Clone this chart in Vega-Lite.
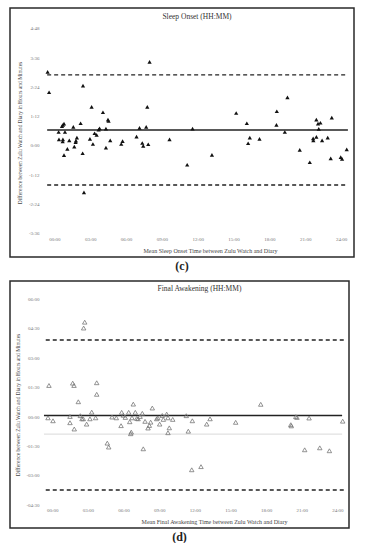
{
  "$schema": "https://vega.github.io/schema/vega-lite/v6.json",
  "padding": {"left": 9, "top": 7, "right": 10, "bottom": 0},
  "background": "white",
  "config": {
    "font": "Liberation Serif",
    "view": {"stroke": "#2a2a2a", "strokeWidth": 1.5},
    "concat": {"spacing": 8},
    "axis": {"labelOverlap": false, "labelBound": false, "labelFlush": false}
  },
  "datasets": {
    "onset": [
      {"t": -0.56, "d": 2.99}, {"t": -0.44, "d": 2.16}, {"t": 2.40, "d": 2.43}, {"t": 3.12, "d": 1.56},
      {"t": 4.07, "d": 1.34}, {"t": 4.49, "d": 1.04}, {"t": 4.54, "d": 0.98}, {"t": 2.20, "d": 0.89},
      {"t": 1.59, "d": 0.74}, {"t": 0.81, "d": 0.87}, {"t": 0.72, "d": 0.82}, {"t": 0.64, "d": 0.77},
      {"t": 0.36, "d": 0.53}, {"t": 0.89, "d": 0.53}, {"t": 0.39, "d": 0.23}, {"t": 0.72, "d": 0.23},
      {"t": 0.70, "d": 0.14}, {"t": 1.25, "d": 0.19}, {"t": 0.81, "d": -0.42}, {"t": 1.09, "d": -0.16},
      {"t": 1.67, "d": -0.07}, {"t": 1.81, "d": 0.18}, {"t": 1.89, "d": 0.30}, {"t": 1.78, "d": 0.11},
      {"t": 2.37, "d": -0.34}, {"t": 2.48, "d": -1.94}, {"t": 2.98, "d": 0.25}, {"t": 3.23, "d": 0.04},
      {"t": 3.37, "d": 0.48}, {"t": 3.54, "d": 0.41}, {"t": 3.71, "d": 0.63}, {"t": 3.79, "d": 0.68},
      {"t": 4.32, "d": 0.67}, {"t": 4.32, "d": -0.11}, {"t": 4.68, "d": 0.19}, {"t": 5.60, "d": 0.04},
      {"t": 5.71, "d": 0.16}, {"t": 6.88, "d": 0.34}, {"t": 7.13, "d": 0.70}, {"t": 7.36, "d": 0.08},
      {"t": 7.44, "d": -0.04}, {"t": 7.69, "d": 0.74}, {"t": 7.78, "d": 1.56}, {"t": 7.86, "d": 0.03},
      {"t": 7.97, "d": 3.40}, {"t": 9.64, "d": 0.23}, {"t": 11.12, "d": -0.81}, {"t": 11.57, "d": 0.67},
      {"t": 13.19, "d": -0.41}, {"t": 15.22, "d": 1.31}, {"t": 16.11, "d": 0.89}, {"t": 16.22, "d": 0.07},
      {"t": 16.36, "d": 0.30}, {"t": 17.17, "d": 0.25}, {"t": 18.59, "d": 0.82}, {"t": 18.62, "d": 1.38},
      {"t": 19.29, "d": 0.53}, {"t": 19.51, "d": 1.95}, {"t": 20.54, "d": -0.20}, {"t": 21.38, "d": -0.71},
      {"t": 21.66, "d": 0.27}, {"t": 21.68, "d": 0.19}, {"t": 21.93, "d": 0.33}, {"t": 21.93, "d": 1.04},
      {"t": 22.07, "d": 0.87}, {"t": 22.13, "d": 0.66}, {"t": 22.27, "d": 0.91}, {"t": 22.41, "d": 0.19},
      {"t": 22.88, "d": 0.30}, {"t": 23.22, "d": 1.12}, {"t": 23.13, "d": -0.55}, {"t": 23.97, "d": -0.50},
      {"t": 24.08, "d": -0.57}, {"t": 24.47, "d": -0.18}
    ],
    "awake": [
      {"t": 2.73, "d": 4.79}, {"t": 2.64, "d": 4.49}, {"t": -0.28, "d": 1.56}, {"t": 1.72, "d": 1.68},
      {"t": 1.83, "d": 1.56}, {"t": 3.74, "d": 1.70}, {"t": 3.74, "d": 1.11}, {"t": 2.19, "d": 0.73},
      {"t": 6.82, "d": 0.61}, {"t": -0.36, "d": -0.09}, {"t": 0.06, "d": -0.24}, {"t": 1.49, "d": -0.02},
      {"t": 1.49, "d": -0.34}, {"t": 1.85, "d": -0.66}, {"t": 2.36, "d": 0.02}, {"t": 2.50, "d": -0.14},
      {"t": 2.61, "d": -0.14}, {"t": 2.89, "d": -0.41}, {"t": 3.17, "d": -0.14}, {"t": 3.32, "d": 0.20},
      {"t": 3.65, "d": -0.09}, {"t": 4.63, "d": -1.38}, {"t": 4.75, "d": -1.58}, {"t": 5.03, "d": -0.05},
      {"t": 5.39, "d": -0.09}, {"t": 5.79, "d": -0.49}, {"t": 5.84, "d": 0.19}, {"t": 5.98, "d": 0.04},
      {"t": 6.15, "d": -0.07}, {"t": 6.43, "d": 0.19}, {"t": 6.52, "d": -0.29}, {"t": 6.60, "d": -0.90},
      {"t": 6.65, "d": -0.82}, {"t": 6.71, "d": -0.09}, {"t": 6.99, "d": 0.19}, {"t": 7.11, "d": -0.12},
      {"t": 7.22, "d": -0.14}, {"t": 7.39, "d": -0.02}, {"t": 7.58, "d": 0.14}, {"t": 7.66, "d": -1.67},
      {"t": 7.81, "d": -0.27}, {"t": 8.06, "d": -0.61}, {"t": 8.17, "d": -0.48}, {"t": 8.28, "d": -0.31},
      {"t": 8.42, "d": 0.41}, {"t": 8.79, "d": -0.14}, {"t": 8.88, "d": -0.09}, {"t": 9.26, "d": 0.03},
      {"t": 9.35, "d": -0.17}, {"t": 9.63, "d": 0.10}, {"t": 9.74, "d": -0.09}, {"t": 10.14, "d": -0.17},
      {"t": 9.04, "d": -0.41}, {"t": 9.85, "d": -0.60}, {"t": 9.74, "d": -0.85}, {"t": 11.28, "d": 0.02},
      {"t": 11.79, "d": -0.24}, {"t": 11.45, "d": -0.77}, {"t": 13.28, "d": -0.14}, {"t": 13.00, "d": -0.41},
      {"t": 15.44, "d": -0.32}, {"t": 11.74, "d": -2.74}, {"t": 12.52, "d": -2.58}, {"t": 17.55, "d": 0.60},
      {"t": 20.50, "d": -0.03}, {"t": 20.60, "d": -0.07}, {"t": 21.62, "d": -0.10}, {"t": 20.08, "d": -0.44},
      {"t": 20.12, "d": -0.50}, {"t": 24.45, "d": -0.26}, {"t": 21.25, "d": -1.72}, {"t": 22.52, "d": -1.62},
      {"t": 23.33, "d": -1.77}
    ],
    "onsetRef": [
      {"y": 2.87, "kind": "limit"}, {"y": -1.64, "kind": "limit"}, {"y": 0.61, "kind": "mean"}
    ],
    "awakeRef": [
      {"y": 3.88, "kind": "limit"}, {"y": -3.77, "kind": "limit"}, {"y": 0.03, "kind": "mean"}, {"y": -0.92, "kind": "band"}
    ]
  },
  "vconcat": [
    {
      "title": {"text": "(c)", "orient": "bottom", "anchor": "middle", "offset": 3, "fontSize": 12, "fontWeight": "bold", "color": "#222", "font": "Liberation Serif"},
      "vconcat": [
        {
          "width": 344,
          "height": 249,
          "title": {"text": "Sleep Onset (HH:MM)", "anchor": "middle", "offset": -12, "fontSize": 7.5, "fontWeight": "normal", "color": "#333", "font": "Liberation Serif", "dx": 15},
          "layer": [
            {
              "mark": {"type": "rule", "color": "#c8c8c8", "strokeWidth": 0.8},
              "encoding": {
                "x": {"datum": -0.84, "type": "quantitative"},
                "y": {"datum": -3.6, "type": "quantitative"},
                "y2": {"datum": 4.8}
              }
            },
            {
              "data": {"name": "onsetRef"},
              "transform": [{"filter": "datum.kind == 'limit'"}],
              "mark": {"type": "rule", "color": "#222", "strokeWidth": 1.4, "strokeDash": [4, 3]},
              "encoding": {
                "y": {"field": "y", "type": "quantitative"},
                "x": {"datum": -0.6, "type": "quantitative"},
                "x2": {"datum": 24.57}
              }
            },
            {
              "data": {"name": "onsetRef"},
              "transform": [{"filter": "datum.kind == 'mean'"}],
              "mark": {"type": "rule", "color": "#222", "strokeWidth": 1.5},
              "encoding": {
                "y": {"field": "y", "type": "quantitative"},
                "x": {"datum": -0.6, "type": "quantitative"},
                "x2": {"datum": 24.57}
              }
            },
            {
              "data": {"name": "onset"},
              "mark": {"type": "point", "shape": "triangle-up", "filled": true, "color": "#111", "size": 18, "opacity": 1},
              "encoding": {
                "x": {
                  "field": "t", "type": "quantitative",
                  "scale": {"domain": [-3.71, 25.08], "nice": false, "zero": false},
                  "axis": {
                    "values": [0, 3, 6, 9, 12, 15, 18, 21, 24],
                    "tickCount": 30,
                    "labelExpr": "format(datum.value, '02d') + ':00'",
                    "labelOverlap": false,
                    "offset": -24, "domain": false, "ticks": false, "grid": false,
                    "labelFontSize": 5, "labelColor": "#777", "labelPadding": 3,
                    "title": "Mean Sleep Onset Time between Zulu Watch and Diary",
                    "titleFontSize": 6, "titleColor": "#444", "titleFontWeight": "normal",
                    "titlePadding": 6, "titleX": 200
                  }
                },
                "y": {
                  "field": "d", "type": "quantitative",
                  "scale": {"domain": [-4.59, 5.61], "nice": false, "zero": false},
                  "axis": {
                    "values": [-3.6, -2.4, -1.2, 0, 1.2, 2.4, 3.6, 4.8],
                    "tickCount": 30,
                    "labelExpr": "(datum.value < 0 ? '-' : '') + format(floor(round(abs(datum.value)*60)/60), 'd') + ':' + format(round(abs(datum.value)*60) % 60, '02d')",
                    "labelOverlap": false,
                    "offset": -34, "domain": false, "ticks": false, "grid": false,
                    "labelFontSize": 5, "labelColor": "#777", "labelPadding": 5,
                    "title": "Difference between Zulu Watch and Diary in Hours and Minutes",
                    "titleFontSize": 5.5, "titleColor": "#444", "titleFontWeight": "normal",
                    "titlePadding": 6
                  }
                }
              }
            }
          ]
        }
      ]
    },
    {
      "title": {"text": "(d)", "orient": "bottom", "anchor": "middle", "offset": 3, "fontSize": 12, "fontWeight": "bold", "color": "#222", "font": "Liberation Serif"},
      "vconcat": [
        {
          "width": 339,
          "height": 247,
          "title": {"text": "Final Awakening (HH:MM)", "anchor": "middle", "offset": -11, "fontSize": 7.5, "fontWeight": "normal", "color": "#333", "font": "Liberation Serif", "dx": 20},
          "layer": [
            {
              "mark": {"type": "rule", "color": "#c8c8c8", "strokeWidth": 0.8},
              "encoding": {
                "x": {"datum": -0.78, "type": "quantitative"},
                "y": {"datum": -4.5, "type": "quantitative"},
                "y2": {"datum": 6}
              }
            },
            {
              "data": {"name": "awakeRef"},
              "transform": [{"filter": "datum.kind == 'band'"}],
              "mark": {"type": "rule", "color": "#cfcfcf", "strokeWidth": 0.8},
              "encoding": {
                "y": {"field": "y", "type": "quantitative"},
                "x": {"datum": -0.7, "type": "quantitative"},
                "x2": {"datum": 24.4}
              }
            },
            {
              "data": {"name": "awakeRef"},
              "transform": [{"filter": "datum.kind == 'limit'"}],
              "mark": {"type": "rule", "color": "#222", "strokeWidth": 1.4, "strokeDash": [4, 3]},
              "encoding": {
                "y": {"field": "y", "type": "quantitative"},
                "x": {"datum": -0.55, "type": "quantitative"},
                "x2": {"datum": 24.55}
              }
            },
            {
              "data": {"name": "awakeRef"},
              "transform": [{"filter": "datum.kind == 'mean'"}],
              "mark": {"type": "rule", "color": "#222", "strokeWidth": 1.5},
              "encoding": {
                "y": {"field": "y", "type": "quantitative"},
                "x": {"datum": -0.7, "type": "quantitative"},
                "x2": {"datum": 24.4}
              }
            },
            {
              "data": {"name": "awake"},
              "mark": {"type": "point", "shape": "triangle-up", "filled": false, "stroke": "#777", "strokeWidth": 0.8, "size": 20, "opacity": 1},
              "encoding": {
                "x": {
                  "field": "t", "type": "quantitative",
                  "scale": {"domain": [-3.56, 24.98], "nice": false, "zero": false},
                  "axis": {
                    "values": [0, 3, 6, 9, 12, 15, 18, 21, 24],
                    "tickCount": 30,
                    "labelExpr": "format(datum.value, '02d') + ':00'",
                    "labelOverlap": false,
                    "offset": -23, "domain": false, "ticks": false, "grid": false,
                    "labelFontSize": 5, "labelColor": "#777", "labelPadding": 2,
                    "title": "Mean Final Awakening Time between Zulu Watch and Diary",
                    "titleFontSize": 6, "titleColor": "#444", "titleFontWeight": "normal",
                    "titlePadding": 6, "titleX": 204
                  }
                },
                "y": {
                  "field": "d", "type": "quantitative",
                  "scale": {"domain": [-5.71, 6.89], "nice": false, "zero": false},
                  "axis": {
                    "values": [-4.5, -3, -1.5, 0, 1.5, 3, 4.5, 6],
                    "tickCount": 30,
                    "labelExpr": "(datum.value < 0 ? '-' : '') + format(floor(round(abs(datum.value)*60)/60), '02d') + ':' + format(round(abs(datum.value)*60) % 60, '02d')",
                    "labelOverlap": false,
                    "offset": -33, "domain": false, "ticks": false, "grid": false,
                    "labelFontSize": 5, "labelColor": "#777", "labelPadding": 4,
                    "title": "Difference between Zulu Watch and Diary in Hours and Minutes",
                    "titleFontSize": 5.5, "titleColor": "#444", "titleFontWeight": "normal",
                    "titlePadding": 5
                  }
                }
              }
            }
          ]
        }
      ]
    }
  ]
}
